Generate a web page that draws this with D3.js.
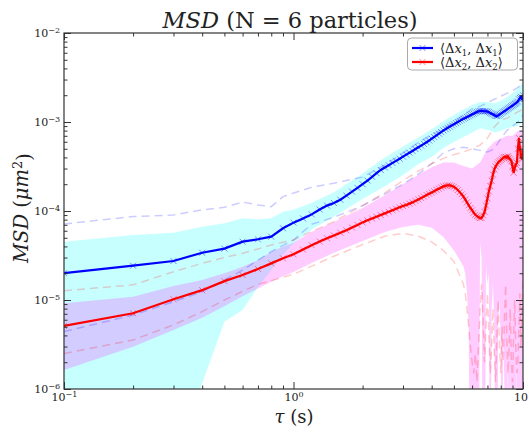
<!DOCTYPE html>
<html>
<head>
<meta charset="utf-8">
<script src="https://cdn.jsdelivr.net/npm/d3@7"></script>
<style>
  body { margin: 0; background: #fff; }
  svg text { font-family: "DejaVu Serif", "Liberation Serif", serif; fill: #222; }
</style>
</head>
<body>
<svg id="chart" width="529" height="433"></svg>
<script>
// lag times (s), one point every 0.1 s
const tau = d3.range(1, 101).map(i => +(i / 10).toFixed(1));

// mean MSD, <dx1,dx1> and <dx2,dx2>
const blueMean = [
  2.00e-5, 2.43e-5, 2.74e-5, 3.40e-5, 3.78e-5, 4.52e-5, 4.81e-5, 5.15e-5, 6.40e-5, 7.40e-5,
  8.26e-5, 9.16e-5, 1.04e-4, 1.15e-4, 1.23e-4, 1.34e-4, 1.49e-4, 1.65e-4, 1.82e-4, 2.00e-4,
  2.20e-4, 2.42e-4, 2.66e-4, 2.89e-4, 3.08e-4, 3.27e-4, 3.47e-4, 3.66e-4, 3.87e-4, 4.08e-4,
  4.30e-4, 4.52e-4, 4.73e-4, 4.97e-4, 5.20e-4, 5.43e-4, 5.68e-4, 5.92e-4, 6.19e-4, 6.49e-4,
  6.78e-4, 7.08e-4, 7.40e-4, 7.71e-4, 8.04e-4, 8.32e-4, 8.59e-4, 8.87e-4, 9.16e-4, 9.44e-4,
  9.73e-4, 1.00e-3, 1.03e-3, 1.06e-3, 1.09e-3, 1.11e-3, 1.14e-3, 1.16e-3, 1.19e-3, 1.22e-3,
  1.24e-3, 1.27e-3, 1.30e-3, 1.32e-3, 1.33e-3, 1.33e-3, 1.33e-3, 1.32e-3, 1.32e-3, 1.31e-3,
  1.29e-3, 1.26e-3, 1.24e-3, 1.22e-3, 1.19e-3, 1.17e-3, 1.17e-3, 1.18e-3, 1.21e-3, 1.24e-3,
  1.27e-3, 1.30e-3, 1.32e-3, 1.35e-3, 1.38e-3, 1.41e-3, 1.44e-3, 1.47e-3, 1.50e-3, 1.53e-3,
  1.56e-3, 1.60e-3, 1.62e-3, 1.66e-3, 1.70e-3, 1.80e-3, 1.86e-3, 1.92e-3, 1.82e-3, 2.00e-3
];
const redMean = [
  5.11e-6, 7.10e-6, 1.02e-5, 1.29e-5, 1.63e-5, 1.91e-5, 2.23e-5, 2.58e-5, 2.94e-5, 3.26e-5,
  3.69e-5, 4.13e-5, 4.54e-5, 4.94e-5, 5.32e-5, 5.69e-5, 6.07e-5, 6.52e-5, 6.98e-5, 7.45e-5,
  7.87e-5, 8.24e-5, 8.63e-5, 9.02e-5, 9.40e-5, 9.79e-5, 1.02e-4, 1.06e-4, 1.10e-4, 1.14e-4,
  1.17e-4, 1.21e-4, 1.25e-4, 1.30e-4, 1.35e-4, 1.40e-4, 1.45e-4, 1.51e-4, 1.56e-4, 1.61e-4,
  1.67e-4, 1.73e-4, 1.78e-4, 1.84e-4, 1.89e-4, 1.92e-4, 1.94e-4, 1.94e-4, 1.91e-4, 1.87e-4,
  1.80e-4, 1.72e-4, 1.63e-4, 1.54e-4, 1.45e-4, 1.35e-4, 1.25e-4, 1.16e-4, 1.08e-4, 1.02e-4,
  9.55e-5, 9.08e-5, 8.75e-5, 8.51e-5, 8.32e-5, 8.36e-5, 8.91e-5, 9.77e-5, 1.15e-4, 1.38e-4,
  1.66e-4, 1.91e-4, 2.19e-4, 2.57e-4, 2.92e-4, 3.16e-4, 3.35e-4, 3.51e-4, 3.63e-4, 3.73e-4,
  3.85e-4, 3.98e-4, 4.03e-4, 4.07e-4, 3.98e-4, 4.12e-4, 3.94e-4, 3.80e-4, 3.63e-4, 3.16e-4,
  2.69e-4, 3.02e-4, 3.31e-4, 3.47e-4, 5.01e-4, 6.61e-4, 5.01e-4, 4.07e-4, 3.80e-4, 4.84e-4
];

// coarser grid for the spread (band) and dashed bound curves
const bandTau = [0.1, 0.2, 0.3, 0.4, 0.5, 0.6, 0.7, 0.8, 0.9, 1, 1.2, 1.5, 2, 2.5, 3, 3.5,
                 4, 4.5, 5, 5.5, 6, 6.5, 7, 7.5, 8, 8.5, 9, 9.5, 10];
const blueHi = [4.52e-5, 5.37e-5, 5.70e-5, 6.65e-5, 7.27e-5, 8.28e-5, 8.07e-5, 8.28e-5, 9.82e-5, 1.03e-4,
                1.24e-4, 1.62e-4, 2.64e-4, 4.0e-4, 5.3e-4, 6.7e-4, 8.3e-4, 1.02e-3, 1.2e-3, 1.38e-3,
                1.55e-3, 1.68e-3, 1.68e-3, 1.62e-3, 1.72e-3, 1.9e-3, 2.1e-3, 2.4e-3, 2.8e-3];
const blueLo = [1e-8, 1e-8, 1.5e-7, 1.16e-6, 5.7e-6, 7.73e-6, 1.4e-5, 2.18e-5, 3.23e-5, 4.33e-5,
                6.2e-5, 8.7e-5, 1.36e-4, 1.9e-4, 2.53e-4, 3.38e-4, 4.05e-4, 5.1e-4, 5.96e-4, 6.8e-4,
                7.6e-4, 8.5e-4, 8.2e-4, 7.6e-4, 8.0e-4, 8.5e-4, 8.8e-4, 9.0e-4, 1.0e-3];
const blueDashHi = [7.14e-5, 8.67e-5, 9.02e-5, 1.03e-4, 1.10e-4, 1.26e-4, 1.17e-4, 1.12e-4, 1.45e-4, 1.59e-4,
                    1.85e-4, 2.05e-4, 2.4e-4, 3.3e-4, 4.5e-4, 5.9e-4, 7.2e-4, 8.4e-4, 1.0e-3, 1.2e-3,
                    1.4e-3, 1.5e-3, 1.65e-3, 1.8e-3, 1.95e-3, 2.1e-3, 2.25e-3, 2.45e-3, 2.7e-3];
const blueDashLo = [4.41e-6, 6.78e-6, 9.57e-6, 1.24e-5, 1.68e-5, 2.17e-5, 2.8e-5, 3.49e-5, 4.1e-5, 4.72e-5,
                    7.1e-5, 8.5e-5, 1.15e-4, 1.55e-4, 2.0e-4, 2.6e-4, 3.4e-4, 4.5e-4, 5.0e-4, 5.2e-4,
                    5.0e-4, 4.8e-4, 4.6e-4, 5.0e-4, 6.5e-4, 8.0e-4, 9.0e-4, 1.0e-3, 1.2e-3];
const redHi = [9.18e-6, 1.09e-5, 1.44e-5, 1.68e-5, 2.0e-5, 2.37e-5, 2.81e-5, 3.49e-5, 3.97e-5, 4.4e-5,
               5.8e-5, 7.5e-5, 1.08e-4, 1.5e-4, 2.0e-4, 2.55e-4, 3.1e-4, 3.5e-4, 3.5e-4, 3.2e-4,
               3.0e-4, 3.5e-4, 5.0e-4, 6.0e-4, 6.5e-4, 7.0e-4, 7.0e-4, 8.0e-4, 8.0e-4];
const redDashHi = [1.27e-5, 1.48e-5, 2.08e-5, 2.58e-5, 3.0e-5, 3.35e-5, 3.75e-5, 4.15e-5, 4.45e-5, 4.72e-5,
                   5.9e-5, 7.6e-5, 1.15e-4, 1.6e-4, 2.2e-4, 2.8e-4, 3.4e-4, 3.9e-4, 4.3e-4, 4.6e-4,
                   5.0e-4, 5.5e-4, 6.6e-4, 8.8e-4, 1.05e-3, 1.1e-3, 1.2e-3, 1.3e-3, 1.4e-3];

// the lower red curves get noisy at long lag times: finer grid there
const redLoTau = [0.1, 0.2, 0.3, 0.4, 0.5, 0.6, 0.7, 0.8, 0.9, 1, 1.2, 1.5, 2, 2.5, 3, 3.5, 4, 4.5, 5, 5.5,
  5.6, 5.7, 5.8, 5.9, 6.0, 6.1, 6.2, 6.3, 6.4, 6.5, 6.6, 6.7, 6.8, 6.9, 7.0, 7.1, 7.2, 7.3, 7.4, 7.5,
  7.6, 7.7, 7.8, 7.9, 8.0, 8.1, 8.2, 8.3, 8.4, 8.5, 8.6, 8.7, 8.8, 8.9, 9.0, 9.1, 9.2, 9.3, 9.4, 9.5,
  9.6, 9.7, 9.8, 9.9, 10];
const redLo = [1.63e-6, 2.99e-6, 4.6e-6, 6.3e-6, 8.5e-6, 1.1e-5, 1.35e-5, 1.6e-5, 1.85e-5, 2.07e-5,
  2.6e-5, 3.4e-5, 4.6e-5, 5.8e-5, 6.6e-5, 7.0e-5, 6.5e-5, 5.1e-5, 3.6e-5, 2.4e-5,
  2.0e-5, 1.2e-5, 5e-6, 1e-8, 1e-8, 1e-8, 1e-8, 1e-8, 1e-8, 4.4e-5,
  3e-5, 1e-8, 1e-8, 2.5e-5, 1.5e-5, 2e-5, 1e-8, 8e-6, 1.5e-5, 5e-6,
  1e-8, 1e-8, 6e-6, 1e-5, 3e-6, 1e-8, 5e-6, 1e-6, 1e-8, 1e-8,
  4e-6, 1e-8, 2e-6, 1e-8, 1e-8, 1e-6, 1e-8, 1e-8, 3e-6, 1e-8,
  1e-8, 1e-8, 1e-8, 1e-8, 1e-8];
const redDashLo = [2.5e-6, 3.55e-6, 5.25e-6, 7.4e-6, 1.0e-5, 1.25e-5, 1.5e-5, 1.65e-5, 1.8e-5, 1.95e-5,
  2.4e-5, 3.1e-5, 4.2e-5, 5.2e-5, 5.6e-5, 5.2e-5, 4.5e-5, 3.6e-5, 2.7e-5, 1.5e-5,
  1.2e-5, 8e-6, 5e-6, 3e-6, 2e-6, 1.5e-6, 2.5e-6, 1.2e-6, 3e-6, 8e-6,
  1.5e-5, 6e-6, 2e-6, 5e-6, 1.2e-5, 4e-6, 1.5e-6, 3e-6, 8e-6, 2.5e-6,
  1.2e-6, 4e-6, 1e-5, 3e-6, 1.5e-6, 5e-6, 2e-6, 6e-6, 1.5e-5, 4e-6,
  1.5e-6, 3e-6, 8e-6, 2e-6, 1.2e-6, 4e-6, 1e-5, 3e-6, 1.5e-6, 2e-6,
  5e-6, 1.2e-5, 3e-6, 8e-6, 2e-5];

const svg = d3.select("#chart");
const x = d3.scaleLog().domain([0.1, 10]).range([64, 523]);
const y = d3.scaleLog().domain([1e-6, 1e-2]).range([389, 33]);

svg.append("defs").append("clipPath").attr("id", "clip")
  .append("rect").attr("x", 64).attr("y", 33).attr("width", 459).attr("height", 356);
const plot = svg.append("g").attr("clip-path", "url(#clip)");

// band polygon: upper curve forward, lower curve back
function band(tHi, hi, tLo, lo) {
  const pts = tHi.map((t, i) => [x(t), y(hi[i])])
    .concat(tLo.map((t, i) => [x(t), y(lo[i])]).reverse());
  return d3.line()(pts) + "Z";
}
const line = d3.line().x(d => x(d[0])).y(d => y(d[1]));
const zip = (ts, vs) => ts.map((t, i) => [t, vs[i]]);

plot.append("path").attr("d", band(bandTau, blueHi, bandTau, blueLo))
  .attr("fill", "#00ffff").attr("fill-opacity", 0.22);
plot.append("path").attr("d", band(bandTau, redHi, redLoTau, redLo))
  .attr("fill", "#ff00ff").attr("fill-opacity", 0.2);

const dashes = [
  [bandTau, blueDashHi, "#0000ff"], [bandTau, blueDashLo, "#0000ff"],
  [bandTau, redDashHi, "#ff0000"], [redLoTau, redDashLo, "#ff0000"]
];
dashes.forEach(([ts, vs, c]) => {
  plot.append("path").attr("d", line(zip(ts, vs)))
    .attr("fill", "none").attr("stroke", c).attr("stroke-opacity", 0.2)
    .attr("stroke-width", 1.5).attr("stroke-dasharray", "8,5");
});

const xMark = "M-3,-3L3,3M-3,3L3,-3";
[[blueMean, "#0000ff"], [redMean, "#ff0000"]].forEach(([vs, c]) => {
  const pts = zip(tau, vs);
  plot.append("path").attr("d", line(pts))
    .attr("fill", "none").attr("stroke", c).attr("stroke-width", 2.2);
  plot.append("g").selectAll("path").data(pts).enter().append("path")
    .attr("d", xMark)
    .attr("transform", d => `translate(${x(d[0])},${y(d[1])})`)
    .attr("stroke", c).attr("stroke-opacity", 0.45).attr("stroke-width", 1);
});

// axes: ticks inward on all four sides
const isMajor = v => Math.abs(Math.log10(v) - Math.round(Math.log10(v))) < 1e-6;
const xTicks = x.ticks(), yTicks = y.ticks();
function supLabels(g) {
  g.selectAll(".tick text").each(function (d) {
    if (!isMajor(d)) return;
    const e = Math.round(Math.log10(d));
    const t = d3.select(this).text("10");
    t.append("tspan").attr("dy", "-0.5em").attr("font-size", "8px")
      .text(e < 0 ? "\u2212" + (-e) : e);
  });
}
function addAxis(axisFn, scale, ticks, transform, labels) {
  const maj = ticks.filter(isMajor), min = ticks.filter(v => !isMajor(v));
  const gMaj = svg.append("g").attr("transform", transform)
    .call(axisFn(scale).tickValues(maj).tickSizeInner(-7).tickSizeOuter(0)
      .tickPadding(labels ? 4 : 0).tickFormat(labels ? (d => d) : ""));
  svg.append("g").attr("transform", transform)
    .call(axisFn(scale).tickValues(min).tickSizeInner(-3.5).tickSizeOuter(0).tickFormat(""));
  svg.selectAll(".domain").remove();
  gMaj.selectAll("text").attr("font-size", "11px")
    .attr("font-family", "DejaVu Serif, serif").attr("fill", "#333");
  if (labels) supLabels(gMaj);
}
addAxis(d3.axisBottom, x, xTicks, "translate(0,389)", true);
addAxis(d3.axisTop, x, xTicks, "translate(0,33)", false);
addAxis(d3.axisLeft, y, yTicks, "translate(64,0)", true);
addAxis(d3.axisRight, y, yTicks, "translate(523,0)", false);
svg.selectAll(".tick line").attr("stroke", "#333");

svg.append("rect").attr("x", 64).attr("y", 33).attr("width", 459).attr("height", 356)
  .attr("fill", "none").attr("stroke", "#333").attr("stroke-width", 1.2);

// title and axis labels
const title = svg.append("text").attr("x", 290).attr("y", 28)
  .attr("text-anchor", "middle").attr("font-size", "22.5px");
title.append("tspan").attr("font-style", "italic").text("MSD");
title.append("tspan").text(" (N = 6 particles)");

const xl = svg.append("text").attr("x", 294).attr("y", 423)
  .attr("text-anchor", "middle").attr("font-size", "18px");
xl.append("tspan").attr("font-style", "italic").text("\u03c4");
xl.append("tspan").text(" (s)");

const yl = svg.append("text").attr("transform", "translate(28,208) rotate(-90)")
  .attr("text-anchor", "middle").attr("font-size", "19.5px");
yl.append("tspan").attr("font-style", "italic").text("MSD");
yl.append("tspan").text(" (");
yl.append("tspan").attr("font-style", "italic").text("\u03bcm");
yl.append("tspan").attr("dy", "-0.45em").attr("font-size", "13px").text("2");
yl.append("tspan").attr("dy", "0.45em").text(")");

// legend
const legend = svg.append("g");
legend.append("rect").attr("x", 407.5).attr("y", 38).attr("width", 110).attr("height", 32)
  .attr("rx", 4).attr("fill", "#fff").attr("stroke", "#aaa");
const entries = [["#0000ff", "1"], ["#ff0000", "2"]];
entries.forEach(([c, k], i) => {
  const ly = 48 + i * 14;
  legend.append("line").attr("x1", 412).attr("x2", 433).attr("y1", ly).attr("y2", ly)
    .attr("stroke", c).attr("stroke-width", 2.2);
  legend.append("path").attr("d", xMark).attr("transform", `translate(422.5,${ly})`)
    .attr("stroke", c).attr("stroke-opacity", 0.45);
  const t = legend.append("text").attr("x", 440).attr("y", ly + 4.5).attr("font-size", "13px");
  t.append("tspan").text("\u27e8\u0394");
  t.append("tspan").attr("font-style", "italic").text("x");
  t.append("tspan").attr("dy", 3).attr("font-size", "8.5px").text(k);
  t.append("tspan").attr("dy", -3).text(", \u0394");
  t.append("tspan").attr("font-style", "italic").text("x");
  t.append("tspan").attr("dy", 3).attr("font-size", "8.5px").text(k);
  t.append("tspan").attr("dy", -3).text("\u27e9");
});
</script>
</body>
</html>
